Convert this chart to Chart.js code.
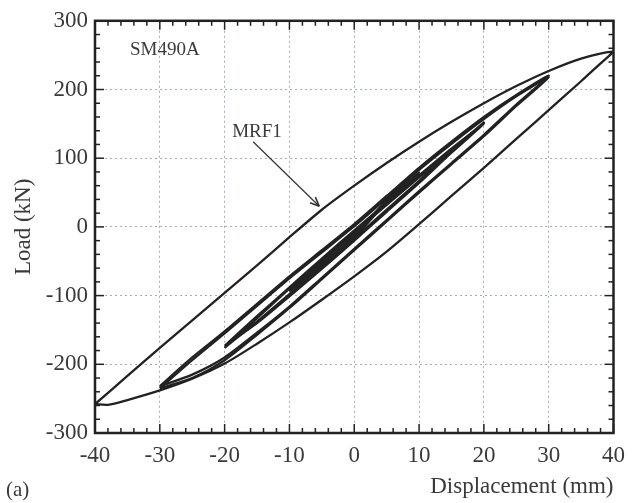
<!DOCTYPE html>
<html>
<head>
    <title>SM490A hysteresis</title>
    <script src="https://cdn.jsdelivr.net/npm/chart.js"></script>
    <style>
        html, body { margin: 0; padding: 0; background: #fff; }
        #wrap { width: 634px; height: 503px; }
    </style>
</head>
<body>
    <div id="wrap"><canvas id="loadChart" width="634" height="503"></canvas></div>
    <script>
        // Displacement (mm) / load (kN), one closed loop per cycle
        // each loop: going right along the upper branch, then back along the lower one
        const loop10Disp = [-10, -5, 0, 5, 10, 5, 0, -5, -10];
        const loop10aLoad = [-94, -52, -10, 33, 76, 36, -16, -57, -94];
        const loop10bLoad = [-92, -50, -7, 36, 79, 39, -13, -55, -92];

        const loop20Disp = [-20, -15, -10, -5, 0, 5, 10, 15, 20, 15, 10, 5, 0, -5, -10, -15, -20];
        const loop20aLoad = [-176, -133, -90, -49, -8, 32, 72, 112, 152, 111, 67, 25, -17, -58, -98, -138, -176];
        const loop20bLoad = [-173, -130, -88, -46, -5, 35, 75, 114, 150, 108, 64, 22, -20, -61, -101, -140, -173];

        const loop30Disp = [-30, -25, -20, -15, -10, -5, 0, 5, 10, 15, 20, 25, 30,
                            25, 20, 15, 10, 5, 0, -5, -10, -15, -20, -25, -30];
        const loop30aLoad = [-232, -190, -152, -112, -72, -34, 4, 45, 86, 124, 160, 192, 220,
                             178, 134, 93, 52, 10, -32, -74, -116, -154, -190, -215, -232];
        const loop30bLoad = [-235, -194, -155, -115, -75, -37, 1, 42, 83, 121, 157, 190, 218,
                             176, 132, 91, 50, 8, -34, -76, -118, -157, -194, -220, -235];

        const loop40Disp = [-40, -35, -30, -25, -20, -15, -10, -5, 0, 5, 10, 15, 20, 25, 30, 35, 40,
                            38, 35, 30, 25, 20, 15, 10, 5, 0, -5, -10, -15, -20, -25, -30, -35, -38, -40];
        const loop40Load = [-258, -217, -176, -136, -96, -56, -15, 25, 60, 93, 124, 153, 180, 205, 227, 245, 255,
                            238, 212, 170, 128, 86, 45, 4, -36, -72, -106, -139, -170, -199, -221, -238, -252, -259, -258];

        const xTicks = [-40, -30, -20, -10, 0, 10, 20, 30, 40];
        const yTicks = [-300, -200, -100, 0, 100, 200, 300];

        const loops = [
            [loop10Disp, loop10aLoad],
            [loop10Disp, loop10bLoad],
            [loop20Disp, loop20aLoad],
            [loop20Disp, loop20bLoad],
            [loop30Disp, loop30aLoad],
            [loop30Disp, loop30bLoad],
            [loop40Disp, loop40Load]
        ];

        const serif = "'Liberation Serif', 'DejaVu Serif', serif";
        const textColor = '#3a3a3a';
        const lineColor = '#222';

        // text notes, positioned in data units
        const notes = [
            { text: 'SM490A', x: -34.6, y: 258, align: 'left' },
            { text: 'MRF1', x: -15.0, y: 138, align: 'center' }
        ];
        const arrowFrom = [-15.6, 124];
        const arrowTo = [-5.4, 30];

        const datasets = loops.map(([d, l]) => ({
            data: d.map((v, i) => ({ x: v, y: l[i] })),
            showLine: true,
            borderColor: lineColor,
            borderWidth: 2.3,
            pointRadius: 0,
            tension: 0.25,
            fill: false
        }));

        function line(ctx, x1, y1, x2, y2) {
            ctx.beginPath();
            ctx.moveTo(x1, y1);
            ctx.lineTo(x2, y2);
            ctx.stroke();
        }

        // inward ticks on all four sides, frame, and the notes
        const frameTicks = {
            id: 'frameTicks',
            afterDraw(chart) {
                const { ctx, chartArea: a, scales: { x, y } } = chart;
                ctx.save();
                ctx.strokeStyle = lineColor;
                ctx.lineWidth = 1.5;
                for (let v = -40; v <= 40; v += 2) {
                    const px = x.getPixelForValue(v);
                    const len = v % 10 === 0 ? 9 : 5;
                    line(ctx, px, a.bottom, px, a.bottom - len);
                    line(ctx, px, a.top, px, a.top + len);
                }
                for (let v = -300; v <= 300; v += 20) {
                    const py = y.getPixelForValue(v);
                    const len = v % 100 === 0 ? 9 : 5;
                    line(ctx, a.left, py, a.left + len, py);
                    line(ctx, a.right, py, a.right - len, py);
                }
                ctx.lineWidth = 2.5;
                ctx.strokeRect(a.left, a.top, a.width, a.height);

                ctx.fillStyle = textColor;
                ctx.font = '19px ' + serif;
                ctx.textBaseline = 'middle';
                for (const n of notes) {
                    ctx.textAlign = n.align;
                    ctx.fillText(n.text, x.getPixelForValue(n.x), y.getPixelForValue(n.y));
                }

                // arrow to the MRF1 curve
                const x1 = x.getPixelForValue(arrowFrom[0]), y1 = y.getPixelForValue(arrowFrom[1]);
                const x2 = x.getPixelForValue(arrowTo[0]), y2 = y.getPixelForValue(arrowTo[1]);
                ctx.strokeStyle = '#333';
                ctx.lineWidth = 1.2;
                line(ctx, x1, y1, x2, y2);
                const ang = Math.atan2(y2 - y1, x2 - x1);
                ctx.lineWidth = 1.6;
                line(ctx, x2, y2, x2 - 10 * Math.cos(ang - 0.4), y2 - 10 * Math.sin(ang - 0.4));
                line(ctx, x2, y2, x2 - 10 * Math.cos(ang + 0.4), y2 - 10 * Math.sin(ang + 0.4));

                ctx.textAlign = 'left';
                ctx.font = '21px ' + serif;
                ctx.fillText('(a)', 6, 490);
                ctx.restore();
            }
        };

        const tickFont = { family: serif, size: 23 };

        new Chart(document.getElementById('loadChart').getContext('2d'), {
            type: 'scatter',
            data: { datasets },
            options: {
                responsive: false,
                animation: false,
                layout: { padding: { left: 0, right: 18, top: 20, bottom: 0 } },
                plugins: { legend: { display: false }, tooltip: { enabled: false } },
                scales: {
                    x: {
                        type: 'linear',
                        min: -40,
                        max: 40,
                        afterBuildTicks: s => { s.ticks = xTicks.map(v => ({ value: v })); },
                        afterFit: s => { s.height = 70; },
                        ticks: { font: tickFont, color: textColor, padding: 9, maxRotation: 0 },
                        grid: { color: '#a3acbe', lineWidth: 1, drawTicks: false },
                        border: { display: false, dash: [2, 3] },
                        title: {
                            display: true,
                            text: 'Displacement (mm)',
                            align: 'end',
                            font: { family: serif, size: 23 },
                            color: textColor,
                            padding: { top: 0, bottom: 2 }
                        }
                    },
                    y: {
                        type: 'linear',
                        min: -300,
                        max: 300,
                        afterBuildTicks: s => { s.ticks = yTicks.map(v => ({ value: v })); },
                        afterFit: s => { s.width = 95; },
                        ticks: { font: tickFont, color: textColor, padding: 7 },
                        grid: { color: '#a3acbe', lineWidth: 1, drawTicks: false },
                        border: { display: false, dash: [2, 3] },
                        title: {
                            display: true,
                            text: 'Load (kN)',
                            font: { family: serif, size: 23 },
                            color: textColor,
                            padding: { top: 10, bottom: 0 }
                        }
                    }
                }
            },
            plugins: [frameTicks]
        });
    </script>
</body>
</html>
